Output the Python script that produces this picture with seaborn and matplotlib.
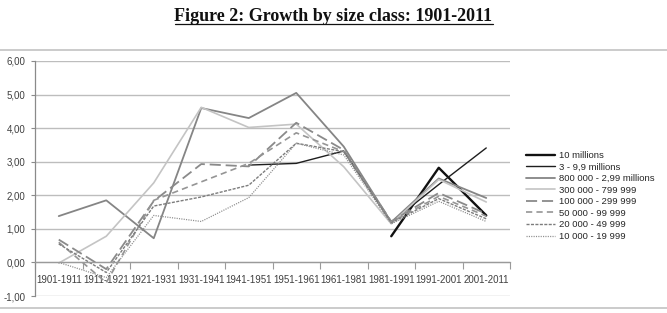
import numpy as np
import pandas as pd
import seaborn as sns
import matplotlib
matplotlib.use("Agg")
import matplotlib.pyplot as plt
from matplotlib.lines import Line2D

periods = ["1901-1911", "1911-1921", "1921-1931", "1931-1941", "1941-1951",
           "1951-1961", "1961-1981", "1981-1991", "1991-2001", "2001-2011"]
nan = np.nan
s_10m = [nan, nan, nan, nan, nan, nan, nan, 0.78, 2.82, 1.40]
s_3m = [nan, nan, nan, nan, 2.90, 2.95, 3.32, 1.20, 2.32, 3.41]
s_800k = [1.38, 1.85, 0.72, 4.60, 4.30, 5.05, 3.45, 1.20, 2.50, 1.92]
s_300k = [-0.02, 0.78, 2.37, 4.62, 4.02, 4.12, 2.85, 1.15, 2.47, 1.80]
s_100k = [0.68, -0.20, 1.83, 2.93, 2.86, 4.16, 3.35, 1.22, 2.07, 1.45]
s_50k = [0.60, -0.60, 1.85, 2.40, 2.95, 3.86, 3.30, 1.20, 1.97, 1.38]
s_20k = [0.55, -0.30, 1.68, 1.95, 2.30, 3.55, 3.30, 1.18, 1.90, 1.30]
s_10k = [0.00, -0.45, 1.40, 1.22, 1.93, 3.55, 3.20, 1.15, 1.82, 1.22]

series_names = ["10 millions", "3 - 9,9 millions", "800 000 - 2,99 millions",
                "300 000 - 799 999", "100 000 - 299 999", "50 000 - 99 999",
                "20 000 - 49 999", "10 000 - 19 999"]
series_values = [s_10m, s_3m, s_800k, s_300k, s_100k, s_50k, s_20k, s_10k]

styles = [
    dict(color="#111111", linewidth=1.7, linestyle="-"),
    dict(color="#1e1e1e", linewidth=1.0, linestyle="-"),
    dict(color="#858585", linewidth=1.3, linestyle="-"),
    dict(color="#c4c4c4", linewidth=1.2, linestyle="-"),
    dict(color="#8a8a8a", linewidth=1.3, linestyle=(0, (8, 3.5))),
    dict(color="#959595", linewidth=1.2, linestyle=(0, (4.5, 3))),
    dict(color="#7c7c7c", linewidth=1.0, linestyle=(0, (2.2, 1.0))),
    dict(color="#8c8c8c", linewidth=0.9, linestyle=(0, (0.8, 0.9))),
]

rows = []
for name, vals in zip(series_names, series_values):
    for i, v in enumerate(vals):
        rows.append({"series": name, "pos": i, "value": v})
df = pd.DataFrame(rows)

sns.set_theme(style="white")
plt.rcParams["font.family"] = ["Liberation Sans", "DejaVu Sans"]
plt.rcParams["lines.scale_dashes"] = False

fig = plt.figure(figsize=(6.67, 3.13), dpi=100)
ax = fig.add_axes([35 / 667, 17 / 313, 475 / 667, 235 / 313])

for name, st in zip(series_names, styles):
    sub = df[(df["series"] == name)].dropna()
    sns.lineplot(data=sub, x="pos", y="value", ax=ax, label=name,
                 legend=False, errorbar=None, **st)

ax.set_xlim(-0.5, 9.5)
ax.set_ylim(-1, 6)
yt = np.arange(-1, 7)
ax.set_yticks(yt)
ax.set_yticklabels([f"{v:.2f}".replace(".", ",") for v in yt])
ax.set_xticks(range(len(periods)))
ax.set_xticklabels(periods)
ax.set_xticks(np.arange(-0.5, 10, 1), minor=True)
ax.set_xlabel("")
ax.set_ylabel("")

ax.yaxis.grid(True, color="#bdbdbd", linewidth=1.0)
ax.xaxis.grid(False)
ax.set_axisbelow(True)
for s in ["top", "right"]:
    ax.spines[s].set_visible(False)
ax.spines["left"].set_color("#8a8a8a")
ax.spines["left"].set_linewidth(0.9)
ax.spines["bottom"].set_position(("data", 0))
ax.spines["bottom"].set_color("#9a9a9a")
ax.spines["bottom"].set_linewidth(0.9)

ax.tick_params(axis="y", which="major", length=3, width=0.8, color="#8a8a8a",
               direction="out", labelsize=7, labelcolor="#404040", pad=4, left=True)
ax.tick_params(axis="x", which="major", length=0, labelsize=7,
               labelcolor="#404040", pad=9, bottom=True)
ax.tick_params(axis="x", which="minor", length=5, width=0.8, color="#9a9a9a",
               direction="out", bottom=True)

handles = list(ax.get_lines())[:len(series_names)]
fig.legend(handles, series_names, loc="upper left",
           bbox_to_anchor=(526 / 667, 1 - 151 / 313),
           bbox_transform=fig.transFigure, frameon=False, fontsize=6.8,
           handlelength=3.1, handletextpad=0.35, labelspacing=0.27,
           borderpad=0, borderaxespad=0)

# chart border lines
fig.add_artist(Line2D([0, 1], [1 - 50 / 313, 1 - 50 / 313], transform=fig.transFigure,
                      color="#bdbdbd", linewidth=1.1))
fig.add_artist(Line2D([0, 1], [1 - 308 / 313, 1 - 308 / 313], transform=fig.transFigure,
                      color="#bdbdbd", linewidth=1.1))

title = fig.text(0.5, 1 - 21 / 313, "Figure 2: Growth by size class: 1901-2011",
                 ha="center", va="baseline", fontsize=13, fontweight="bold",
                 family=["Liberation Serif", "DejaVu Serif"], color="#111111")
fig.canvas.draw()
bb = title.get_window_extent(renderer=fig.canvas.get_renderer())
uy = 1 - 23.5 / 313
fig.add_artist(Line2D([bb.x0 / 667, bb.x1 / 667], [uy, uy], transform=fig.transFigure,
                      color="#111111", linewidth=0.9))

fig.savefig("out.png", dpi=100)
